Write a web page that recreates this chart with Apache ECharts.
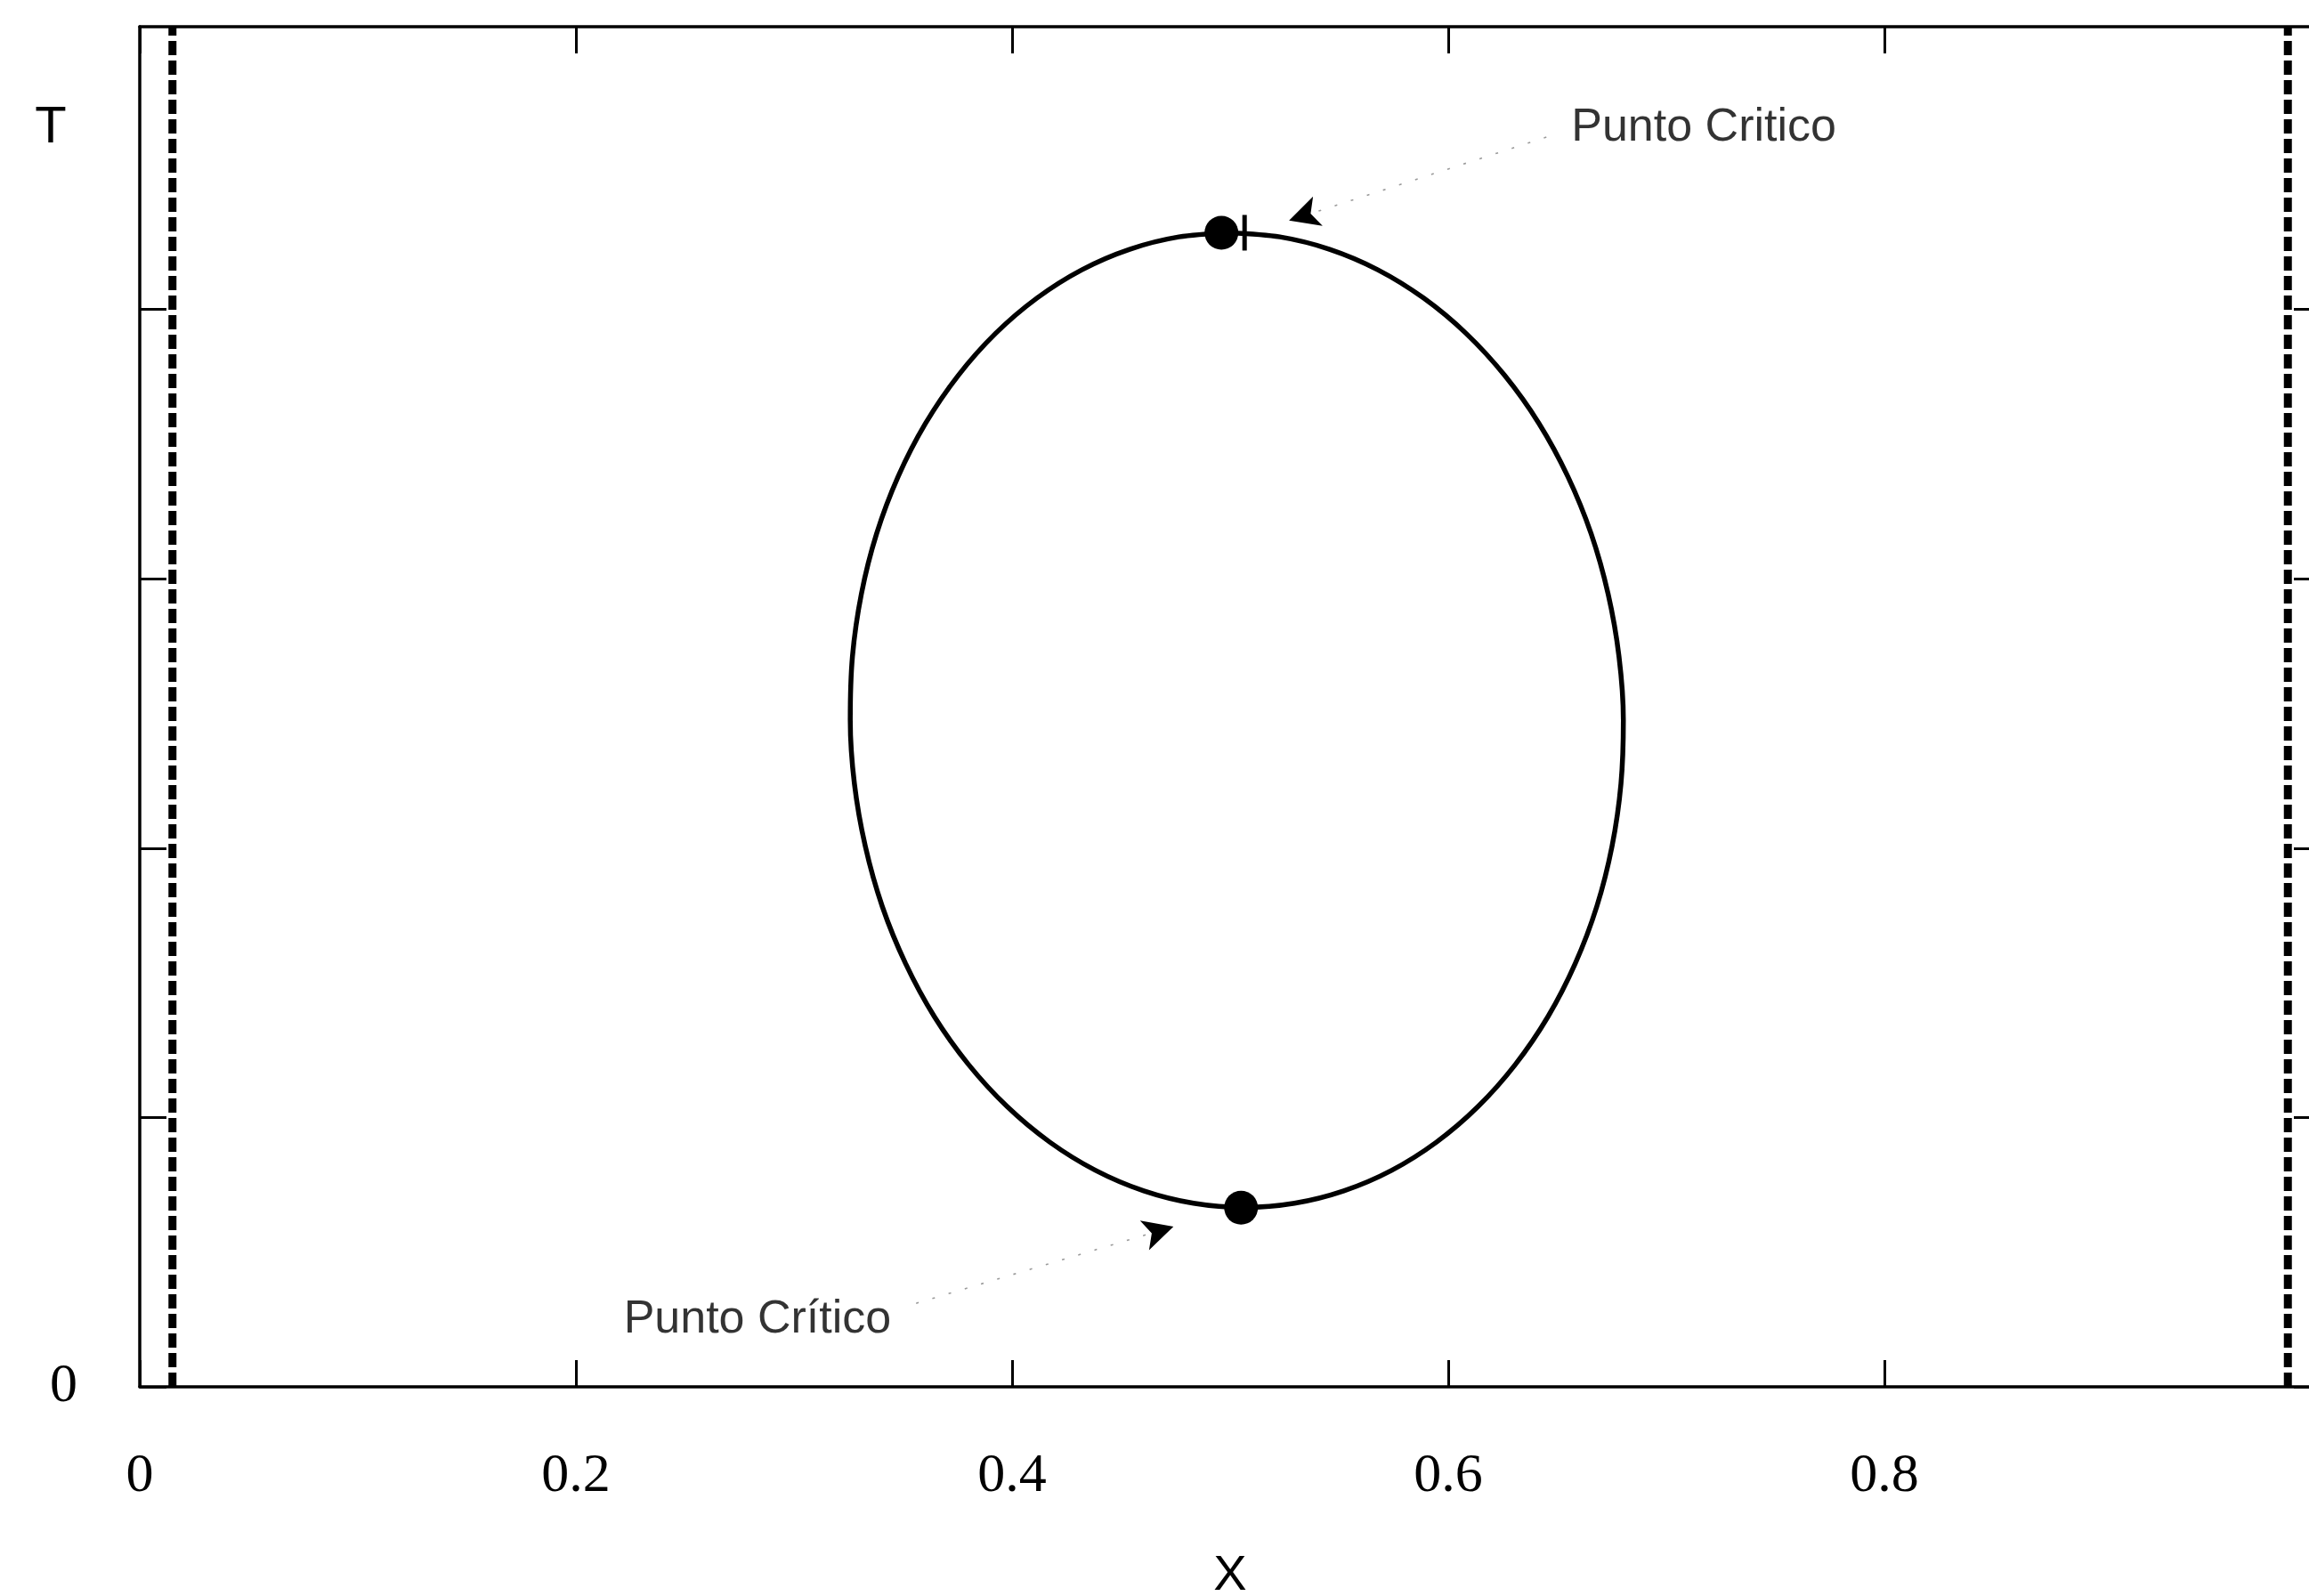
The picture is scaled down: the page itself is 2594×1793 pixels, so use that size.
<!DOCTYPE html>
<html>
<head>
<meta charset="utf-8">
<script src="https://cdn.jsdelivr.net/npm/echarts@6/dist/echarts.min.js"></script>
<style>
  html, body { margin: 0; padding: 0; background: #ffffff; }
  #chart { width: 2594px; height: 1793px; }
</style>
</head>
<body>
<div id="chart"></div>
<script>
// Axis tick labels (only these are printed on the axes)
const xTickLabels = ['0', '0.2', '0.4', '0.6', '0.8', ''];
const yTickLabels = ['0', '', '', '', '', ''];
const yTickValues = [0, 0.2, 0.4, 0.6, 0.8];

// Vertical dashed boundaries (pure components)
const boundaryX = [0.015, 0.985];

// Coexistence curve, traced clockwise from the upper critical point
const curveX = [0.4996, 0.5228, 0.5456, 0.5677, 0.5887, 0.6082, 0.6259, 0.6416, 0.6548, 0.6655,
                0.6733, 0.6783, 0.6803, 0.6792, 0.6751, 0.6681, 0.6582, 0.6457, 0.6307, 0.6136,
                0.5946, 0.5740, 0.5521, 0.5295, 0.5064, 0.4832, 0.4604, 0.4383, 0.4173, 0.3978,
                0.3801, 0.3644, 0.3512, 0.3405, 0.3327, 0.3277, 0.3258, 0.3268, 0.3309, 0.3379,
                0.3478, 0.3603, 0.3753, 0.3924, 0.4114, 0.4320, 0.4539, 0.4765, 0.4996];
const curveY = [0.8570, 0.8539, 0.8447, 0.8295, 0.8085, 0.7822, 0.7510, 0.7154, 0.6761, 0.6336,
                0.5888, 0.5423, 0.4951, 0.4479, 0.4014, 0.3566, 0.3142, 0.2748, 0.2392, 0.2080,
                0.1817, 0.1607, 0.1455, 0.1363, 0.1332, 0.1363, 0.1455, 0.1607, 0.1817, 0.2080,
                0.2392, 0.2748, 0.3142, 0.3566, 0.4014, 0.4479, 0.4951, 0.5423, 0.5888, 0.6336,
                0.6761, 0.7154, 0.7510, 0.7822, 0.8085, 0.8295, 0.8447, 0.8539, 0.8570];

// Upper and lower critical points
const critX = [0.496, 0.505];
const critY = [0.857, 0.133];

// Annotations: text, tail of the pointer line, arrow head
const annotText = ['Punto Critico', 'Punto Crítico'];
const annotTailX = [0.645, 0.356];
const annotTailY = [0.928, 0.062];
const annotHeadX = [0.527, 0.474];
const annotHeadY = [0.866, 0.119];
const annotArrowAngle = [108, -73];
const annotLabelSide = ['right', 'left'];
const annotLabelShift = [[0, -10], [0, 18]];

const Y_MAX = 1.01;

const chart = echarts.init(document.getElementById('chart'), null, { renderer: 'canvas' });

const axisLine = { show: true, onZero: false, lineStyle: { color: '#000', width: 3.5 } };
const xTicks = { show: true, inside: true, length: 30, lineStyle: { color: '#000', width: 3 } };
const yTicks = { show: true, inside: true, length: 30, customValues: yTickValues, lineStyle: { color: '#000', width: 3 } };

const series = [];

boundaryX.forEach(function (bx) {
  series.push({
    type: 'line',
    data: [[bx, 0], [bx, Y_MAX]],
    showSymbol: false,
    silent: true,
    lineStyle: { color: '#000', width: 9, type: [16, 6] },
    z: 3
  });
});

series.push({
  type: 'line',
  data: curveX.map(function (x, i) { return [x, curveY[i]]; }),
  showSymbol: false,
  smooth: 0.3,
  lineStyle: { color: '#000', width: 5.5 },
  z: 4
});

series.push({
  type: 'scatter',
  data: critX.map(function (x, i) { return [x, critY[i]]; }),
  symbol: 'circle',
  symbolSize: 38,
  itemStyle: { color: '#000', opacity: 1 },
  z: 6
});

// small vertical stroke next to the upper critical point
series.push({
  type: 'scatter',
  data: [[critX[0], critY[0]]],
  symbol: 'rect',
  symbolSize: [5, 40],
  symbolOffset: [26, 0],
  itemStyle: { color: '#000', opacity: 1 },
  z: 6
});

annotText.forEach(function (txt, i) {
  series.push({
    type: 'line',
    data: [[annotTailX[i], annotTailY[i]], [annotHeadX[i], annotHeadY[i]]],
    showSymbol: false,
    silent: true,
    lineStyle: { color: '#9a9a9a', width: 1.6, type: [3, 16] },
    z: 5
  });
  series.push({
    type: 'scatter',
    data: [[annotHeadX[i], annotHeadY[i]]],
    symbol: 'arrow',
    symbolSize: [26, 34],
    symbolRotate: annotArrowAngle[i],
    itemStyle: { color: '#000', opacity: 1 },
    z: 6
  });
  series.push({
    type: 'scatter',
    data: [[annotTailX[i], annotTailY[i]]],
    symbolSize: 0,
    label: {
      show: true,
      formatter: txt,
      position: annotLabelSide[i],
      distance: 28,
      offset: annotLabelShift[i],
      color: '#000',
      fontFamily: 'Liberation Sans, Arial, sans-serif',
      fontSize: 52
    },
    z: 7
  });
});

chart.setOption({
  animation: false,
  backgroundColor: '#ffffff',
  grid: { left: 157, top: 30, right: -13, bottom: 235, containLabel: false, outerBoundsMode: 'none' },
  xAxis: [
    {
      type: 'value', position: 'bottom', min: 0, max: 1, interval: 0.2,
      name: 'X', nameLocation: 'middle', nameGap: 185,
      nameTextStyle: { color: '#000', fontFamily: 'Liberation Sans, Arial, sans-serif', fontSize: 56 },
      axisLine: axisLine, axisTick: xTicks, splitLine: { show: false },
      axisLabel: {
        margin: 70, color: '#000', fontFamily: 'Liberation Serif, Times New Roman, serif', fontSize: 62,
        formatter: function (v) { return xTickLabels[Math.round(v / 0.2)] || ''; }
      }
    },
    {
      type: 'value', position: 'top', min: 0, max: 1, interval: 0.2,
      axisLine: axisLine, axisTick: xTicks, axisLabel: { show: false }, splitLine: { show: false }
    }
  ],
  yAxis: [
    {
      type: 'value', position: 'left', min: 0, max: Y_MAX, interval: 0.2,
      name: 'T', nameLocation: 'end', nameGap: -143,
      nameTextStyle: { color: '#000', fontFamily: 'Liberation Sans, Arial, sans-serif', fontSize: 58, padding: [0, 200, 0, 0] },
      axisLine: axisLine, axisTick: yTicks, splitLine: { show: false },
      axisLabel: {
        margin: 70, color: '#000', fontFamily: 'Liberation Serif, Times New Roman, serif', fontSize: 62,
        formatter: function (v) { return yTickLabels[Math.round(v / 0.2)] || ''; }
      }
    },
    {
      type: 'value', position: 'right', min: 0, max: Y_MAX, interval: 0.2,
      axisLine: axisLine, axisTick: yTicks, axisLabel: { show: false }, splitLine: { show: false }
    }
  ],
  series: series
});
</script>
</body>
</html>
